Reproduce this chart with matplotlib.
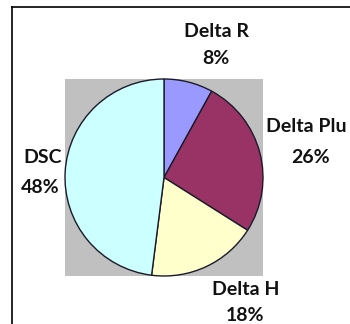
import matplotlib
matplotlib.use("Agg")
import matplotlib.pyplot as plt
from matplotlib.lines import Line2D

# slices, clockwise from 12 o'clock
names = ["Delta R", "Delta Plu", "Delta H", "DSC"]
shares = [8, 26, 18, 48]
colors = ["#9999FF", "#993366", "#FFFFCC", "#CCFFFF"]

W, H = 350, 324
fig = plt.figure(figsize=(W / 100, H / 100), dpi=100)

def px(x, y):
    return x / W, 1 - y / H

# plot area (grey box)
ax = fig.add_axes([65 / W, (H - 276) / H, 198 / W, 197 / H])
ax.pie(shares, colors=colors, startangle=90, counterclock=False,
       wedgeprops=dict(edgecolor="#1a1a2a", linewidth=1.0))
ax.set_frame_on(True)
ax.set_aspect("auto")
ax.set_xlim(-1, 1)
ax.set_ylim(-1, 1)
ax.set_facecolor("#C0C0C0")
for s in ax.spines.values():
    s.set_visible(False)
ax.set_xticks([])
ax.set_yticks([])

# label positions (pixel centres x, baseline y) for name and percent
name_pos = [(216, 37), (266, 132), (246, 295), (43, 163)]
name_ha = ["center", "left", "center", "center"]
pct_pos = [(216, 64), (311, 163), (245, 321), (40, 193)]

fnt = dict(family=["Lato", "DejaVu Sans"], fontweight="bold", fontsize=14,
           color="#111111", va="baseline")
for n, v, p1, ha, p2 in zip(names, shares, name_pos, name_ha, pct_pos):
    fig.text(*px(*p1), n, ha=ha, **fnt)
    fig.text(*px(*p2), f"{v}%", ha="center", **fnt)

# outer chart frame (only top and left visible)
fig.add_artist(Line2D([12 / W, 1.05], [1 - 7 / H] * 2, color="black", lw=1.2,
                      transform=fig.transFigure))
fig.add_artist(Line2D([12 / W] * 2, [1 - 7 / H, -0.05], color="black", lw=1.2,
                      transform=fig.transFigure))

fig.savefig("out.png", dpi=100)
